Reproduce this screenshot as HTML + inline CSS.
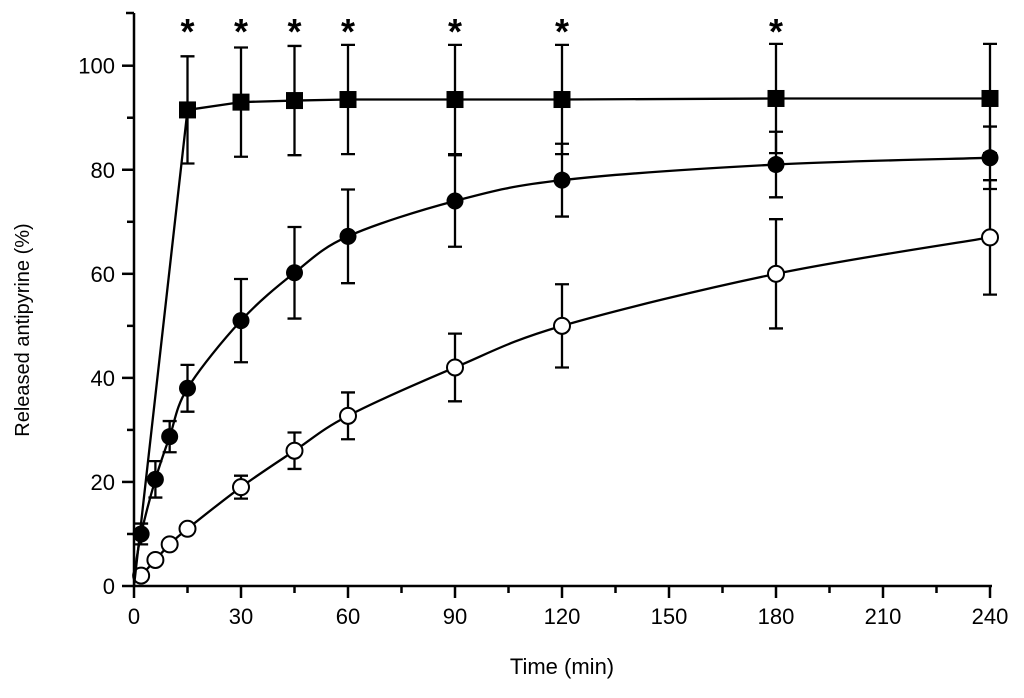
<!DOCTYPE html>
<html><head><meta charset="utf-8"><style>
html,body{margin:0;padding:0;background:#fff;}
svg text{font-family:"Liberation Sans",Arial,sans-serif;fill:#000;}
</style></head><body>
<svg id="c" width="1024" height="693" viewBox="0 0 1024 693" xmlns="http://www.w3.org/2000/svg">
<g id="axes"></g>
<g id="series"></g>
<text x="562" y="674" font-size="22" text-anchor="middle">Time (min)</text>
<text transform="translate(29,330) rotate(-90)" font-size="20" text-anchor="middle">Released antipyrine (%)</text>
</svg>
<script>
const xTicks=[0,30,60,90,120,150,180,210,240];
const yTicks=[0,20,40,60,80,100];
const timesSquare=[0,15,30,45,60,90,120,180,240];
const squareVals=[0,91.5,93,93.3,93.5,93.5,93.5,93.7,93.7];
const squareErr=[0,10.3,10.5,10.5,10.5,10.5,10.5,10.5,10.5];
const timesFilled=[0,2,6,10,15,30,45,60,90,120,180,240];
const filledVals=[2,10,20.5,28.7,38,51,60.2,67.2,74,78,81,82.3];
const filledErr=[0,2,3.5,3,4.5,8,8.8,9,8.8,7,6.3,6];
const timesOpen=[2,6,10,15,30,45,60,90,120,180,240];
const openVals=[2,5,8,11,19,26,32.7,42,50,60,67];
const openErr=[0,0,0,0,2.2,3.5,4.5,6.5,8,10.5,11];
const starTimes=[15,30,45,60,90,120,180];

const NS="http://www.w3.org/2000/svg";
const X=t=>134+t*(990-134)/240;
const Y=v=>586-v*(586-65.7)/100;
function mk(tag,attrs,parent){const e=document.createElementNS(NS,tag);for(const k in attrs)e.setAttribute(k,attrs[k]);parent.appendChild(e);return e;}
const ax=document.getElementById('axes'), se=document.getElementById('series');
let a=mk('line',{x1:134,y1:586,x2:992,y2:586,stroke:'#000','stroke-width':2.5},ax);


a=mk('line',{x1:134,y1:13,x2:134,y2:587,stroke:'#000','stroke-width':2.5},ax);


mk('line',{x1:134,y1:13,x2:126,y2:13,stroke:'#000','stroke-width':2.5},ax);
for(let t=0;t<=240;t+=15){const major=t%30===0;
 const l=mk('line',{x1:X(t),y1:586,x2:X(t),y2:586+(major?12:7),stroke:'#000','stroke-width':2.5},ax);
 
 }
xTicks.forEach(t=>{const tx=mk('text',{x:X(t),y:624,'font-size':22,'text-anchor':'middle'},ax);tx.textContent=t;
 
 });
for(let v=0;v<=100;v+=10){const major=v%20===0;
 const l=mk('line',{x1:134,y1:Y(v),x2:134-(major?12:7),y2:Y(v),stroke:'#000','stroke-width':2.5},ax);
 
 }
yTicks.forEach(v=>{const tx=mk('text',{x:115,y:Y(v)+8,'font-size':22,'text-anchor':'end'},ax);tx.textContent=v;
 
 });

function smooth(p){let d=`M${p[0][0]},${p[0][1]}`;
 for(let i=0;i<p.length-1;i++){const p0=p[i-1]||p[i],p1=p[i],p2=p[i+1],p3=p[i+2]||p2;
  const c1=[p1[0]+(p2[0]-p0[0])/6,p1[1]+(p2[1]-p0[1])/6],c2=[p2[0]-(p3[0]-p1[0])/6,p2[1]-(p3[1]-p1[1])/6];
  d+=`C${c1[0]},${c1[1]} ${c2[0]},${c2[1]} ${p2[0]},${p2[1]}`;}
 return d;}
function series(ts,vs,es,kind,name,sm){
 const g=mk('g',{},se);
 
 
 const P=ts.map((t,i)=>[X(t),Y(vs[i])]);
 if(sm)mk('path',{d:smooth(P),fill:'none',stroke:'#000','stroke-width':2.3},g);
 else mk('polyline',{points:P.map(p=>p.join(',')).join(' '),fill:'none',stroke:'#000','stroke-width':2.3},g);
 ts.forEach((t,i)=>{if(!es[i])return;const x=X(t);
  const eb=mk('path',{d:`M${x},${Y(vs[i]+es[i])}V${Y(vs[i]-es[i])}M${x-7},${Y(vs[i]+es[i])}h14M${x-7},${Y(vs[i]-es[i])}h14`,stroke:'#000','stroke-width':2.3,fill:'none'},g);
  
  });
 ts.forEach((t,i)=>{if(t===0)return;const x=X(t),y=Y(vs[i]);let m;
  if(kind==='sq')m=mk('rect',{x:x-8.5,y:y-8.5,width:17,height:17,fill:'#000'},g);
  else if(kind==='fc')m=mk('circle',{cx:x,cy:y,r:8.5,fill:'#000'},g);
  else m=mk('circle',{cx:x,cy:y,r:8,fill:'#fff',stroke:'#000','stroke-width':2},g);
  
  });
}
series(timesOpen,openVals,openErr,'oc','series-open-circle',true);
series(timesFilled,filledVals,filledErr,'fc','series-filled-circle',true);
series(timesSquare,squareVals,squareErr,'sq','series-square',false);
starTimes.forEach(t=>{const s=mk('text',{x:X(t),y:44,'font-size':36,'font-weight':'bold','text-anchor':'middle'},se);s.textContent='*';
 
 });
</script>
</body></html>
